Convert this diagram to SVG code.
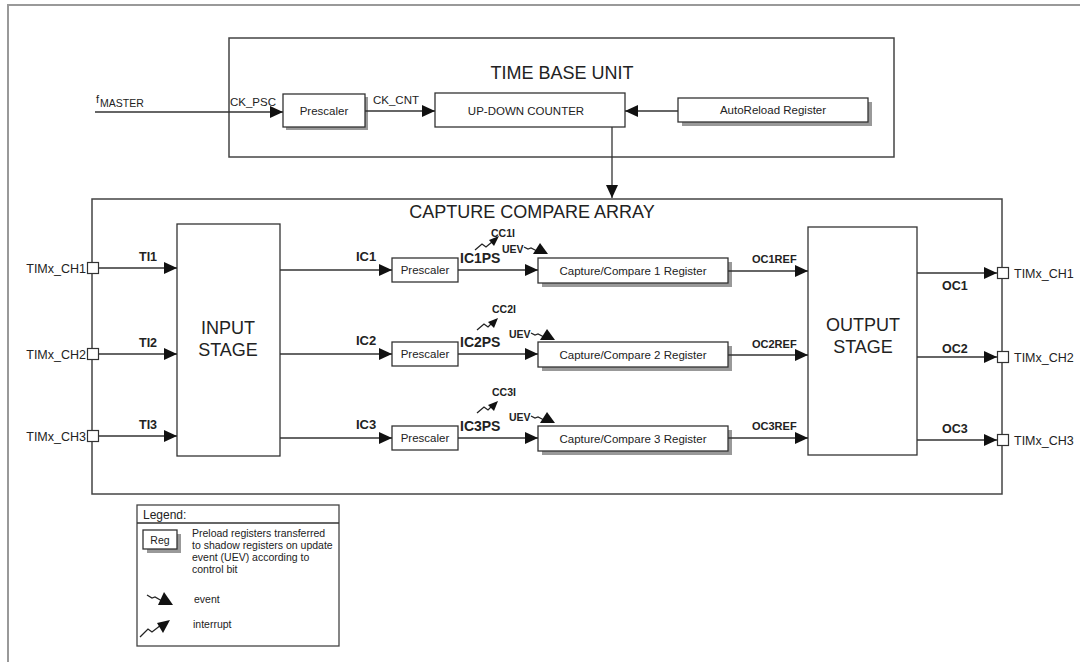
<svg xmlns="http://www.w3.org/2000/svg" width="1080" height="662" viewBox="0 0 1080 662">
<style>
text{font-family:"Liberation Sans",Arial,sans-serif;fill:#222}
.box{fill:#fff;stroke:#333;stroke-width:1.3}
.frame{fill:none;stroke:#444;stroke-width:1.5}
.sh{fill:#999}
.ln{fill:none;stroke:#333;stroke-width:1.3}
.pin{fill:#fff;stroke:#333;stroke-width:1.2}
.t11{font-size:11.5px}
.b{font-weight:bold}
.title{font-size:18px}
.sym{fill:none;stroke:#222;stroke-width:1.3}
.fill{fill:#111}
.ev{font-size:10.5px;font-weight:bold}
</style>
<defs>
<marker id="ah" markerWidth="13" markerHeight="12" refX="13" refY="6" orient="auto" markerUnits="userSpaceOnUse"><path d="M0,0 L13,6 L0,12 z" fill="#111"/></marker>
</defs>
<path d="M8,662 V5 H1080" fill="none" stroke="#999" stroke-width="2"/>

<g id="time-base-unit">
<rect x="229" y="38" width="665" height="119" class="frame"/>
<text x="562" y="79" class="title" text-anchor="middle">TIME BASE UNIT</text>
</g>
<g id="prescaler-tb">
<rect x="286" y="97" width="82" height="33" class="sh"/>
<rect x="283" y="94" width="82" height="33" class="box"/>
<text x="324" y="115" class="t11" text-anchor="middle">Prescaler</text>
</g>
<g id="updown-counter">
<rect x="435" y="93" width="190" height="34" class="box"/>
<text x="526" y="115" class="t11" text-anchor="middle">UP-DOWN COUNTER</text>
</g>
<g id="autoreload">
<rect x="682" y="102" width="190" height="24" class="sh"/>
<rect x="678" y="98" width="190" height="24" class="box"/>
<text x="773" y="114" class="t11" text-anchor="middle">AutoReload Register</text>
</g>

<g id="capture-compare-array">
<rect x="92" y="199" width="910" height="295" class="frame"/>
<text x="532" y="218" class="title" text-anchor="middle">CAPTURE COMPARE ARRAY</text>
</g>
<g id="input-stage">
<rect x="177" y="224" width="103" height="232" class="box"/>
<text x="228" y="334" class="title" text-anchor="middle">INPUT</text>
<text x="228" y="356" class="title" text-anchor="middle">STAGE</text>
</g>
<g id="output-stage">
<rect x="808" y="227" width="109" height="228" class="box"/>
<text x="863" y="331" class="title" text-anchor="middle">OUTPUT</text>
<text x="863" y="353" class="title" text-anchor="middle">STAGE</text>
</g>

<g id="prescaler-1"><rect x="392" y="258" width="66" height="24" class="box"/><text x="425" y="274" class="t11" text-anchor="middle">Prescaler</text></g>
<g id="prescaler-2"><rect x="392" y="342" width="66" height="24" class="box"/><text x="425" y="358" class="t11" text-anchor="middle">Prescaler</text></g>
<g id="prescaler-3"><rect x="392" y="426" width="66" height="24" class="box"/><text x="425" y="442" class="t11" text-anchor="middle">Prescaler</text></g>

<g id="ccr-1"><rect x="542" y="262" width="190" height="25" class="sh"/><rect x="538" y="258" width="190" height="25" class="box"/><text x="633" y="275" class="t11" text-anchor="middle">Capture/Compare 1 Register</text></g>
<g id="ccr-2"><rect x="542" y="346" width="190" height="25" class="sh"/><rect x="538" y="342" width="190" height="25" class="box"/><text x="633" y="359" class="t11" text-anchor="middle">Capture/Compare 2 Register</text></g>
<g id="ccr-3"><rect x="542" y="430" width="190" height="25" class="sh"/><rect x="538" y="426" width="190" height="25" class="box"/><text x="633" y="443" class="t11" text-anchor="middle">Capture/Compare 3 Register</text></g>

<g id="connectors">
<line x1="95" y1="112" x2="283" y2="112" class="ln" marker-end="url(#ah)"/>
<line x1="365" y1="111" x2="435" y2="111" class="ln" marker-end="url(#ah)"/>
<line x1="678" y1="111" x2="625" y2="111" class="ln" marker-end="url(#ah)"/>
<line x1="612" y1="127" x2="612" y2="198" class="ln" marker-end="url(#ah)"/>

<line x1="99" y1="268" x2="177" y2="268" class="ln" marker-end="url(#ah)"/>
<line x1="99" y1="354" x2="177" y2="354" class="ln" marker-end="url(#ah)"/>
<line x1="99" y1="436" x2="177" y2="436" class="ln" marker-end="url(#ah)"/>

<line x1="280" y1="270" x2="392" y2="270" class="ln" marker-end="url(#ah)"/>
<line x1="280" y1="354" x2="392" y2="354" class="ln" marker-end="url(#ah)"/>
<line x1="280" y1="438" x2="392" y2="438" class="ln" marker-end="url(#ah)"/>

<line x1="458" y1="270" x2="538" y2="270" class="ln" marker-end="url(#ah)"/>
<line x1="458" y1="354" x2="538" y2="354" class="ln" marker-end="url(#ah)"/>
<line x1="458" y1="438" x2="538" y2="438" class="ln" marker-end="url(#ah)"/>

<line x1="728" y1="271" x2="808" y2="271" class="ln" marker-end="url(#ah)"/>
<line x1="728" y1="355" x2="808" y2="355" class="ln" marker-end="url(#ah)"/>
<line x1="728" y1="438" x2="808" y2="438" class="ln" marker-end="url(#ah)"/>

<line x1="917" y1="273" x2="997" y2="273" class="ln" marker-end="url(#ah)"/>
<line x1="917" y1="357" x2="997" y2="357" class="ln" marker-end="url(#ah)"/>
<line x1="917" y1="440" x2="997" y2="440" class="ln" marker-end="url(#ah)"/>

<polyline points="475,250 482,244 486,247 492,242" class="sym"/><path d="M489,240 L499,236 L494,246 z" class="fill"/>
<polyline points="477,330 484,324 488,327 491,324" class="sym"/><path d="M488,322 L498,318 L494,328 z" class="fill"/>
<polyline points="477,413 484,407 488,410 491,407" class="sym"/><path d="M488,405 L498,401 L494,411 z" class="fill"/>
<polyline points="524,247 528,249 531,248 537,251" class="sym"/><path d="M533,254 L540,243 L548,254 z" class="fill"/>
<polyline points="531,333 535,335 538,334 544,337" class="sym"/><path d="M540,340 L547,329 L555,340 z" class="fill"/>
<polyline points="531,416 535,418 538,417 544,420" class="sym"/><path d="M540,423 L547,412 L555,423 z" class="fill"/>
</g>

<g id="pins">
<rect x="87.5" y="262.5" width="11" height="11" class="pin"/>
<rect x="87.5" y="348.5" width="11" height="11" class="pin"/>
<rect x="87.5" y="430.5" width="11" height="11" class="pin"/>
<rect x="997.5" y="267.5" width="11" height="11" class="pin"/>
<rect x="997.5" y="351.5" width="11" height="11" class="pin"/>
<rect x="997.5" y="434.5" width="11" height="11" class="pin"/>
</g>

<g id="labels">
<text x="96" y="103" style="font-size:11px">f</text><text x="100" y="107" style="font-size:10.5px">MASTER</text>
<text x="230" y="106" class="t11">CK_PSC</text>
<text x="373" y="104" class="t11">CK_CNT</text>

<text x="86" y="273" style="font-size:12.5px" text-anchor="end">TIMx_CH1</text>
<text x="86" y="359" style="font-size:12.5px" text-anchor="end">TIMx_CH2</text>
<text x="86" y="441" style="font-size:12.5px" text-anchor="end">TIMx_CH3</text>
<text x="1014" y="278" style="font-size:12.5px">TIMx_CH1</text>
<text x="1014" y="362" style="font-size:12.5px">TIMx_CH2</text>
<text x="1014" y="445" style="font-size:12.5px">TIMx_CH3</text>

<text x="139" y="261" class="b" style="font-size:12.5px">TI1</text>
<text x="139" y="347" class="b" style="font-size:12.5px">TI2</text>
<text x="139" y="429" class="b" style="font-size:12.5px">TI3</text>

<text x="356" y="261" class="b" style="font-size:13px">IC1</text>
<text x="356" y="345" class="b" style="font-size:13px">IC2</text>
<text x="356" y="429" class="b" style="font-size:13px">IC3</text>

<text x="460" y="263" class="b" style="font-size:14px">IC1PS</text>
<text x="460" y="347" class="b" style="font-size:14px">IC2PS</text>
<text x="460" y="431" class="b" style="font-size:14px">IC3PS</text>

<text x="491" y="237" class="ev">CC1I</text>
<text x="492" y="313" class="ev">CC2I</text>
<text x="492" y="396" class="ev">CC3I</text>

<text x="502" y="253" class="ev">UEV</text>
<text x="509" y="338" class="ev">UEV</text>
<text x="509" y="421" class="ev">UEV</text>

<text x="752" y="263" class="b" style="font-size:11px">OC1REF</text>
<text x="752" y="348" class="b" style="font-size:11px">OC2REF</text>
<text x="752" y="430" class="b" style="font-size:11px">OC3REF</text>

<text x="942" y="290" class="b" style="font-size:12.5px">OC1</text>
<text x="942" y="353" class="b" style="font-size:12.5px">OC2</text>
<text x="942" y="433" class="b" style="font-size:12.5px">OC3</text>
</g>

<g id="legend">
<rect x="137" y="505" width="202" height="141" class="frame" style="stroke-width:1.3"/>
<line x1="137" y1="523" x2="339" y2="523" class="ln"/>
<text x="143" y="519" style="font-size:12px">Legend:</text>
<rect x="147" y="534" width="34" height="19" class="sh"/>
<rect x="143" y="530" width="34" height="19" class="box"/>
<text x="160" y="544" style="font-size:10.5px" text-anchor="middle">Reg</text>
<text x="192" y="537" style="font-size:10.5px">Preload registers transferred</text>
<text x="192" y="549" style="font-size:10.5px">to shadow registers on update</text>
<text x="192" y="561" style="font-size:10.5px">event (UEV) according to</text>
<text x="192" y="573" style="font-size:10.5px">control bit</text>
<polyline points="147,595 152,598 155,597 162,601" class="sym"/><path d="M158,605 L164,592 L173,605 z" class="fill"/>
<text x="194" y="603" style="font-size:10.5px">event</text>
<polyline points="140,637 148,629 152,632 161,625" class="sym"/><path d="M157,623 L170,620 L163,633 z" class="fill"/>
<text x="193" y="628" style="font-size:10.5px">interrupt</text>
</g>
</svg>
